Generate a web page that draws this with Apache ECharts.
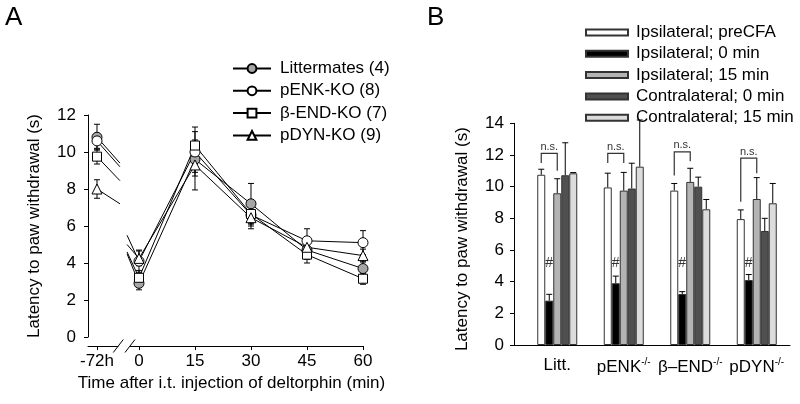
<!DOCTYPE html>
<html>
<head>
<meta charset="utf-8">
<script src="https://cdn.jsdelivr.net/npm/echarts@6/dist/echarts.min.js"></script>
<style>
  html, body { margin: 0; padding: 0; background: #fff; }
  #chart { width: 800px; height: 404px; }
</style>
</head>
<body>
<div id="chart"></div>
<script>
// ---- panel A: time course ----
const timePos = [-11.25, 0, 15, 30, 45, 60] // -72h sits left of the axis break
const timeLabels = ['-72h', '0', '15', '30', '45', '60']
const groupsA = ['Littermates (4)', 'pENK-KO (8)', 'β-END-KO (7)', 'pDYN-KO (9)']
const littMean = [10.8, 2.9, 9.6, 7.2, 4.7, 3.7]
const littErr = [0.7, 0.35, 0.9, 1.1, 0.5, 0.4]
const penkMean = [10.6, 4.1, 10.0, 6.6, 5.2, 5.1]
const penkErr = [0.4, 0.6, 1.1, 0.6, 0.65, 0.65]
const bendMean = [9.75, 3.2, 10.35, 6.65, 4.45, 3.15]
const bendErr = [0.4, 0.4, 1.0, 0.5, 0.45, 0.3]
const pdynMean = [8.0, 4.25, 9.3, 6.45, 4.85, 4.4]
const pdynErr = [0.5, 0.4, 1.35, 0.6, 0.4, 0.35]
// line ends on each side of the break
const breakPos = [-5.1, -3.2]
const littBreak = [9.4, 4.5]
const penkBreak = [9.2, 5.5]
const bendBreak = [8.45, 4.6]
const pdynBreak = [7.2, 5.0]
const slashPos = [-5.55, -2.41]

// ---- panel B: bars ----
const catsB = ['Litt.', 'pENK', 'β–END', 'pDYN']
const supB = ['', '-/-', '-/-', '-/-']
const seriesB = ['Ipsilateral; preCFA', 'Ipsilateral; 0 min', 'Ipsilateral; 15 min', 'Contralateral; 0 min', 'Contralateral; 15 min']
const ipsiPre = [10.75, 9.95, 9.75, 7.95]
const ipsiPreErr = [0.35, 0.9, 0.45, 0.58]
const ipsi0 = [2.8, 3.9, 3.22, 4.1]
const ipsi0Err = [0.4, 0.45, 0.15, 0.35]
const ipsi15 = [9.58, 9.75, 10.3, 9.22]
const ipsi15Err = [0.92, 1.15, 0.86, 1.35]
const contra0 = [10.72, 9.88, 10.0, 7.2]
const contra0Err = [2.05, 1.6, 0.6, 0.8]
const contra15 = [10.84, 11.26, 8.57, 8.95]
const contra15Err = [0.05, 2.95, 0.62, 1.25]
// n.s. brackets: top level, left leg end, right leg end
const nsTop = [12.1, 12.1, 12.2, 11.8]
const nsLeft = [11.5, 11.5, 10.7, 9.05]
const nsRight = [11.0, 11.5, 11.6, 10.85]
const hashLevel = [5.2, 5.2, 5.2, 5.2]

const FONT = '"Liberation Sans", Arial, sans-serif'
const FS = 17
const chart = echarts.init(document.getElementById('chart'))

function lineData(mean, brk) {
  const d = [[timePos[0], mean[0]], { value: [breakPos[0], brk[0]], symbol: 'none' }, [breakPos[0] + 0.5, '-'],
    { value: [breakPos[1], brk[1]], symbol: 'none' }]
  for (let i = 1; i < timePos.length; i++) d.push([timePos[i], mean[i]])
  return d
}

function errA(mean, err) {
  return timePos.map((x, i) => [x, mean[i] - err[i], mean[i] + err[i]])
}

function renderErrA(params, api) {
  const lo = api.coord([api.value(0), api.value(1)])
  const hi = api.coord([api.value(0), api.value(2)])
  const st = { stroke: '#000', lineWidth: 1 }
  return {
    type: 'group',
    children: [
      { type: 'line', shape: { x1: lo[0], y1: lo[1], x2: hi[0], y2: hi[1] }, style: st },
      { type: 'line', shape: { x1: lo[0] - 3, y1: lo[1], x2: lo[0] + 3, y2: lo[1] }, style: st },
      { type: 'line', shape: { x1: hi[0] - 3, y1: hi[1], x2: hi[0] + 3, y2: hi[1] }, style: st }
    ]
  }
}

const meansA = [littMean, penkMean, bendMean, pdynMean]
const errsA = [littErr, penkErr, bendErr, pdynErr]
const breaksA = [littBreak, penkBreak, bendBreak, pdynBreak]
const symbolsA = ['circle', 'circle', 'rect', 'triangle']
const fillsA = ['#a6a6a6', '#fff', '#fff', '#fff']

const seriesList = []
groupsA.forEach((name, k) => {
  seriesList.push({
    type: 'custom', xAxisIndex: 0, yAxisIndex: 0, z: 1, silent: true,
    renderItem: renderErrA, data: errA(meansA[k], errsA[k])
  })
  seriesList.push({
    name: name, type: 'line', xAxisIndex: 0, yAxisIndex: 0, z: 3,
    data: lineData(meansA[k], breaksA[k]),
    symbol: symbolsA[k], symbolSize: symbolsA[k] === 'rect' ? 9 : 10,
    lineStyle: { color: '#000', width: 1 },
    itemStyle: { color: fillsA[k], borderColor: '#000', borderWidth: 1 },
    animation: false
  })
})

const valsB = [ipsiPre, ipsi0, ipsi15, contra0, contra15]
const errsB = [ipsiPreErr, ipsi0Err, ipsi15Err, contra0Err, contra15Err]
const colorsB = ['#ffffff', '#000000', '#b4b4b4', '#505050', '#dcdcdc']
const BAR_W = 8

valsB.forEach((vals, k) => {
  seriesList.push({
    name: seriesB[k], type: 'bar', xAxisIndex: 1, yAxisIndex: 1,
    data: vals, barWidth: BAR_W, barGap: '0%',
    itemStyle: { color: colorsB[k], borderColor: '#333', borderWidth: 1 },
    animation: false
  })
  const off = (k - 2) * BAR_W
  seriesList.push({
    type: 'custom', xAxisIndex: 1, yAxisIndex: 1, z: 1, silent: true,
    data: vals.map((v, i) => [i, v, v + errsB[k][i]]),
    renderItem: (params, api) => {
      const base = api.coord([api.value(0), api.value(1)])
      const top = api.coord([api.value(0), api.value(2)])
      const x = base[0] + off
      const st = { stroke: '#000', lineWidth: 1 }
      return {
        type: 'group',
        children: [
          { type: 'line', shape: { x1: x, y1: base[1], x2: x, y2: top[1] }, style: st },
          { type: 'line', shape: { x1: x - 3, y1: top[1], x2: x + 3, y2: top[1] }, style: st }
        ]
      }
    }
  })
})

// n.s. brackets and # marks
seriesList.push({
  type: 'custom', xAxisIndex: 1, yAxisIndex: 1, silent: true, z: 5,
  data: catsB.map((c, i) => [i, nsTop[i], nsLeft[i], nsRight[i], hashLevel[i]]),
  renderItem: (params, api) => {
    const c = api.value(0)
    const t = api.coord([c, api.value(1)])
    const l = api.coord([c, api.value(2)])
    const r = api.coord([c, api.value(3)])
    const h = api.coord([c, api.value(4)])
    const xl = t[0] - 2 * BAR_W, xr = t[0]
    return {
      type: 'group',
      children: [
        { type: 'polyline', shape: { points: [[xl, l[1]], [xl, t[1]], [xr, t[1]], [xr, r[1]]] },
          style: { stroke: '#333', lineWidth: 1.2, fill: null } },
        { type: 'text', x: (xl + xr) / 2, y: t[1] - 1,
          style: { text: 'n.s.', fontSize: 11, fontFamily: FONT, fill: '#333', align: 'center', verticalAlign: 'bottom' } },
        { type: 'text', x: t[0] - BAR_W, y: h[1],
          style: { text: '#', fontSize: 14, fontFamily: FONT, fill: '#333', align: 'center', verticalAlign: 'middle' } }
      ]
    }
  }
})

const axisText = { color: '#000', fontSize: FS, fontFamily: FONT }

chart.setOption({
  animation: false,
  textStyle: { fontFamily: FONT },
  grid: [
    { left: 88, top: 115, width: 275, height: 222 },
    { left: 524, top: 123.3, width: 266, height: 221.7 }
  ],
  legend: [
    {
      data: groupsA, left: 232, top: 60, orient: 'vertical', padding: 0,
      itemWidth: 38, itemHeight: 11, itemGap: 5.3,
      textStyle: { color: '#000', fontSize: FS, fontFamily: FONT, lineHeight: 17, padding: [0, 0, 0, 4] }
    },
    {
      data: seriesB, left: 585, top: 24, orient: 'vertical', icon: 'rect', padding: 0,
      itemWidth: 42, itemHeight: 6, itemGap: 4.3,
      textStyle: { color: '#000', fontSize: FS, fontFamily: FONT, lineHeight: 17, padding: [0, 0, 0, 3] }
    }
  ],
  xAxis: [
    {
      gridIndex: 0, type: 'value', min: -13.66, max: 60, offset: 9,
      axisLine: { onZero: false, lineStyle: { color: '#000', width: 1 } },
      axisTick: { show: true, length: 4, lineStyle: { color: '#000' }, customValues: timePos },
      axisLabel: {
        ...axisText, margin: 7, customValues: timePos,
        formatter: v => timeLabels[timePos.indexOf(v)]
      },
      splitLine: { show: false },
      name: 'Time after i.t. injection of deltorphin (min)', nameLocation: 'middle', nameGap: 22,
      nameTextStyle: { ...axisText, padding: [0, 0, 0, 12] }
    },
    {
      gridIndex: 1, type: 'category', data: catsB, boundaryGap: true,
      axisLine: { onZero: false, lineStyle: { color: '#000', width: 1 } },
      axisTick: { show: false },
      axisLabel: {
        margin: 12, interval: 0,
        formatter: (v, i) => supB[i] ? '{a|' + v + '}{s|' + supB[i] + '}' : '{a|' + v + '}',
        rich: {
          a: { ...axisText },
          s: { color: '#000', fontSize: 10, fontFamily: FONT, padding: [0, 0, 10, 0] }
        }
      }
    }
  ],
  yAxis: [
    {
      gridIndex: 0, type: 'value', min: 0, max: 12, interval: 2,
      axisLine: { show: true, onZero: false, lineStyle: { color: '#000', width: 1 } },
      axisTick: { show: true, length: 4, lineStyle: { color: '#000' } },
      axisLabel: { ...axisText, margin: 12 },
      splitLine: { show: false },
      name: 'Latency to paw withdrawal (s)', nameLocation: 'middle', nameGap: 45,
      nameTextStyle: axisText
    },
    {
      gridIndex: 1, type: 'value', min: 0, max: 14, interval: 2, offset: 10,
      axisLine: { show: true, onZero: false, lineStyle: { color: '#000', width: 1 } },
      axisTick: { show: true, length: 4, lineStyle: { color: '#000' } },
      axisLabel: { ...axisText, margin: 10 },
      splitLine: { show: false },
      name: 'Latency to paw withdrawal (s)', nameLocation: 'middle', nameGap: 43,
      nameTextStyle: { ...axisText, padding: [0, 10, 0, 0] }
    }
  ],
  series: seriesList
})

// panel letters, axis break marks on panel A, and the x-axis line of panel B joining the y axis
const axisY = chart.convertToPixel({ yAxisIndex: 0 }, 0) + 9
const s1 = chart.convertToPixel({ xAxisIndex: 0 }, slashPos[0])
const s2 = chart.convertToPixel({ xAxisIndex: 0 }, slashPos[1])
const baseB = chart.convertToPixel({ yAxisIndex: 1 }, 0)
chart.setOption({
  graphic: [
    { type: 'text', left: 5, top: 5, style: { text: 'A', fontSize: 26, fontFamily: FONT, fill: '#000' } },
    { type: 'text', left: 427, top: 5, style: { text: 'B', fontSize: 26, fontFamily: FONT, fill: '#000' } },
    { type: 'rect', shape: { x: s1, y: axisY - 2, width: s2 - s1, height: 4 }, style: { fill: '#fff' }, z: 100 },
    { type: 'line', shape: { x1: s1 - 5, y1: axisY + 6.5, x2: s1 + 5, y2: axisY - 6.5 }, style: { stroke: '#000', lineWidth: 1 }, z: 101 },
    { type: 'line', shape: { x1: s2 - 5, y1: axisY + 6.5, x2: s2 + 5, y2: axisY - 6.5 }, style: { stroke: '#000', lineWidth: 1 }, z: 101 },
    { type: 'line', shape: { x1: 514, y1: Math.round(baseB) + 0.5, x2: 525, y2: Math.round(baseB) + 0.5 }, style: { stroke: '#000', lineWidth: 1 }, z: 101 }
  ]
})
</script>
</body>
</html>
